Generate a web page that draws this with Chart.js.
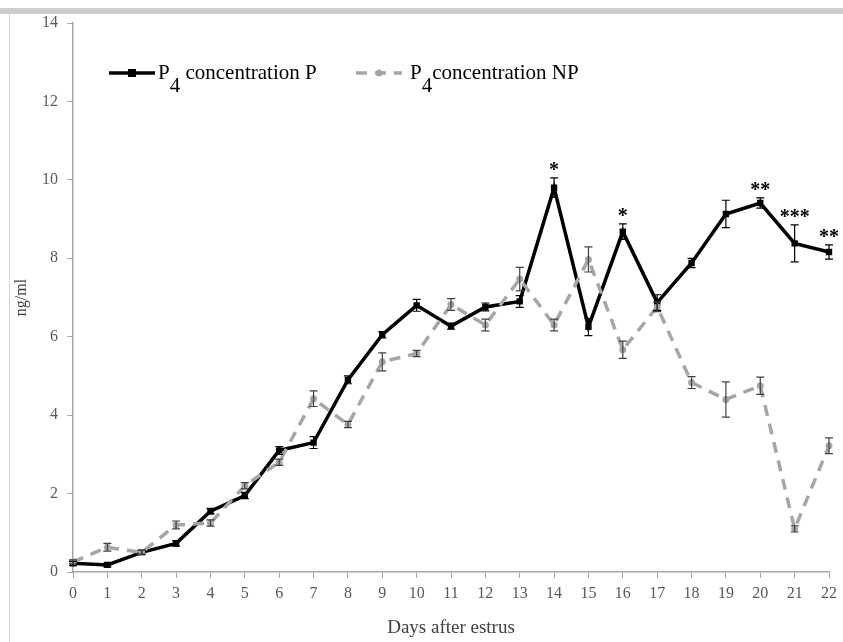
<!DOCTYPE html>
<html>
<head>
<meta charset="utf-8">
<script src="https://cdn.jsdelivr.net/npm/chart.js@4.4.0/dist/chart.umd.min.js"></script>
<style>
  html, body { margin: 0; padding: 0; background: #fff; }
  #wrap { position: relative; width: 843px; height: 642px; overflow: hidden; }
  #band { position: absolute; left: 0; top: 8px; width: 843px; height: 6px; background: #cdcdcd; }
  #edge { position: absolute; left: 9px; top: 14px; width: 1px; height: 628px; background: #d6d6d6; }
  #chart { position: absolute; left: 0; top: 0; }
  .leg { position: absolute; top: 62px; font-family: "Liberation Serif", serif; font-size: 21px; line-height: 21px; color: #000; white-space: nowrap; }
  .leg .sub { position: relative; top: 13px; }
  #legsvg { position: absolute; left: 0; top: 0; }
</style>
</head>
<body>
<div id="wrap">
  <div id="band"></div>
  <div id="edge"></div>
  <canvas id="chart" width="843" height="642"></canvas>
  <svg id="legsvg" width="843" height="100">
    <line x1="109" y1="73" x2="155" y2="73" stroke="#000" stroke-width="3.5"/>
    <rect x="128" y="69" width="8" height="8" fill="#000"/>
    <line x1="356" y1="73" x2="402" y2="73" stroke="#a6a6a6" stroke-width="3.5" stroke-dasharray="11 8"/>
    <circle cx="379" cy="73" r="3.5" fill="#a6a6a6"/>
  </svg>
  <div class="leg" style="left:158px">P<span class="sub">4</span> concentration P</div>
  <div class="leg" style="left:410px">P<span class="sub">4</span>concentration NP</div>
</div>
<script>
const days = ["0","1","2","3","4","5","6","7","8","9","10","11","12","13","14","15","16","17","18","19","20","21","22"];
const pValues = [0.22, 0.18, 0.5, 0.73, 1.55, 1.95, 3.1, 3.3, 4.9, 6.05, 6.8, 6.27, 6.76, 6.9, 9.8, 6.25, 8.68, 6.87, 7.88, 9.13, 9.41, 8.38, 8.16];
const pErrors = [0.05, 0.05, 0.05, 0.07, 0.07, 0.08, 0.1, 0.15, 0.1, 0.08, 0.15, 0.08, 0.1, 0.15, 0.25, 0.22, 0.2, 0.2, 0.12, 0.35, 0.13, 0.47, 0.18];
const npValues = [0.26, 0.63, 0.5, 1.2, 1.25, 2.2, 2.8, 4.42, 3.76, 5.36, 5.57, 6.82, 6.3, 7.47, 6.3, 7.97, 5.67, 6.76, 4.83, 4.4, 4.75, 1.1, 3.22];
const npErrors = [0.05, 0.1, 0.05, 0.1, 0.08, 0.08, 0.08, 0.2, 0.08, 0.23, 0.08, 0.15, 0.15, 0.3, 0.15, 0.32, 0.22, 0.12, 0.15, 0.45, 0.22, 0.08, 0.2];
const sigMarks = ["", "", "", "", "", "", "", "", "", "", "", "", "", "", "*", "", "*", "", "", "", "**", "***", "**"];

const serif = "'Liberation Serif', 'Times New Roman', serif";
const axisGray = "#a6a6a6";

// vertical error bars with caps, drawn through the y scale
const errorBars = {
  id: "errorBars",
  afterDatasetsDraw(chart) {
    const ctx = chart.ctx;
    const y = chart.scales.y;
    chart.data.datasets.forEach((ds, i) => {
      if (!ds.errors) return;
      const meta = chart.getDatasetMeta(i);
      ctx.save();
      ctx.strokeStyle = ds.errorColor;
      ctx.lineWidth = 1.2;
      meta.data.forEach((pt, j) => {
        const v = ds.data[j], e = ds.errors[j];
        const top = y.getPixelForValue(v + e);
        const bot = y.getPixelForValue(v - e);
        ctx.beginPath();
        ctx.moveTo(pt.x, top); ctx.lineTo(pt.x, bot);
        ctx.moveTo(pt.x - 4, top); ctx.lineTo(pt.x + 4, top);
        ctx.moveTo(pt.x - 4, bot); ctx.lineTo(pt.x + 4, bot);
        ctx.stroke();
      });
      ctx.restore();
    });
  }
};

// significance asterisks above the P series
const sigLabels = {
  id: "sigLabels",
  afterDraw(chart) {
    const ctx = chart.ctx;
    const y = chart.scales.y;
    const meta = chart.getDatasetMeta(0);
    ctx.save();
    ctx.fillStyle = "#000";
    ctx.font = "bold 20px " + serif;
    ctx.textAlign = "center";
    ctx.textBaseline = "alphabetic";
    sigMarks.forEach((m, j) => {
      if (!m) return;
      const pt = meta.data[j];
      const top = y.getPixelForValue(pValues[j] + pErrors[j]);
      ctx.fillText(m, pt.x, top - 2);
    });
    ctx.restore();
  }
};

const ctx = document.getElementById("chart").getContext("2d");
new Chart(ctx, {
  type: "line",
  data: {
    labels: days,
    datasets: [
      {
        label: "P4 concentration P",
        data: pValues,
        errors: pErrors,
        errorColor: "#000",
        borderColor: "#000",
        backgroundColor: "#000",
        borderWidth: 3.5,
        pointStyle: "rect",
        pointRadius: 4.5,
        pointBorderWidth: 0,
        tension: 0,
        order: 1
      },
      {
        label: "P4 concentration NP",
        data: npValues,
        errors: npErrors,
        errorColor: "#404040",
        borderColor: "#a6a6a6",
        backgroundColor: "#a6a6a6",
        borderWidth: 3.5,
        borderDash: [11, 8],
        pointStyle: "circle",
        pointRadius: 3.5,
        pointBorderWidth: 0,
        tension: 0,
        order: 0
      }
    ]
  },
  options: {
    responsive: false,
    animation: false,
    layout: { padding: { left: 12, top: 23, right: 9, bottom: 2 } },
    plugins: {
      legend: { display: false },
      tooltip: { enabled: false }
    },
    scales: {
      x: {
        offset: false,
        afterFit: (s) => { s.height = 68; },
        grid: { drawOnChartArea: false, drawTicks: true, tickLength: 6, color: axisGray },
        border: { color: axisGray, width: 1.5 },
        ticks: { color: "#595959", font: { family: serif, size: 16 }, padding: 6, maxRotation: 0, autoSkip: false },
        title: { display: true, text: "Days after estrus", color: "#404040", font: { family: serif, size: 19 }, padding: { top: 0, bottom: 1 } }
      },
      y: {
        min: 0,
        max: 14,
        afterFit: (s) => { s.width = 61; },
        grid: { drawOnChartArea: false, drawTicks: true, tickLength: 6, color: axisGray },
        border: { color: axisGray, width: 1.5 },
        ticks: { stepSize: 2, color: "#595959", font: { family: serif, size: 16 }, padding: 9 },
        title: { display: true, text: "ng/ml", color: "#404040", font: { family: serif, size: 16 }, padding: { top: 0, bottom: 4 } }
      }
    }
  },
  plugins: [errorBars, sigLabels]
});
</script>
</body>
</html>
